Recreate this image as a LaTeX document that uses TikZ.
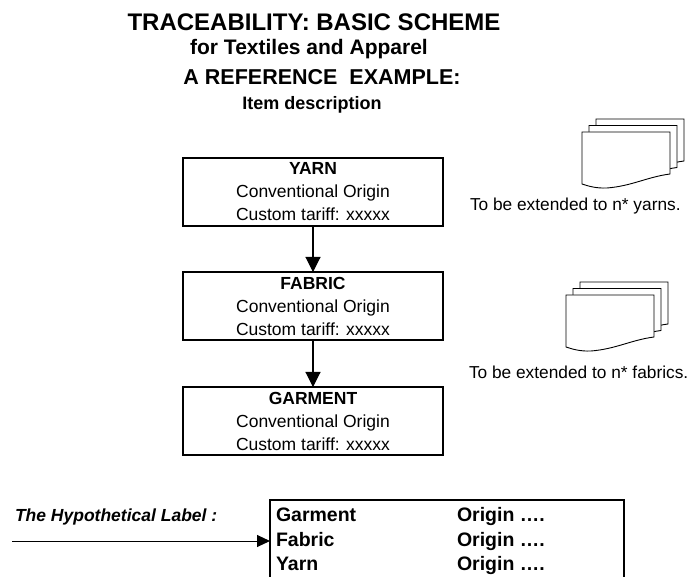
\documentclass[tikz,border=0pt]{standalone}
\usepackage{fontspec}
\setmainfont{Liberation Sans}
\usetikzlibrary{arrows.meta}
\begin{document}
\begin{tikzpicture}[x=1pt,y=-1pt,
  every node/.style={inner sep=0pt, outer sep=0pt},
  box/.style={draw, line width=1.2pt, minimum width=260pt, minimum height=68pt, align=center,
    font=\fontsize{17.5}{23}\selectfont},
  arr/.style={line width=1.1pt, -{Triangle[width=15pt,length=15pt]}},
  larr/.style={line width=1pt, -{Triangle[width=12pt,length=13pt]}},
  ext/.style={anchor=base west, font=\fontsize{17.3}{20}\selectfont},
  lrow/.style={anchor=base west, font=\fontsize{19.5}{22}\selectfont\bfseries},
  docpage/.pic={\filldraw[fill=white, line width=0.9pt]
     (0,0) -- (88,0) -- (88,42) .. controls (65,45) and (50,54) .. (25,56)
     .. controls (14,56.5) and (6,54) .. (0,52) -- cycle;}
]
\useasboundingbox (0,0) rectangle (691,577);
% titles
\node[anchor=base, font=\fontsize{24}{28}\selectfont\bfseries] (title) at (314,31) {TRACEABILITY: BASIC SCHEME};
\node[anchor=base, font=\fontsize{21}{24}\selectfont\bfseries] (sub) at (309,55) {for Textiles and Apparel};
\node[anchor=base, font=\fontsize{21.5}{24}\selectfont\bfseries] (ref) at (322,85) {A REFERENCE\ \ EXAMPLE:};
\node[anchor=base, font=\fontsize{18}{20}\selectfont\bfseries] (item) at (312,110) {Item description};
% boxes
\node[box] (yarn) at (313,192) {\textbf{YARN}\\Conventional Origin\\Custom tariff: xxxxx};
\node[box] (fabric) at (313,306) {\textbf{FABRIC}\\Conventional Origin\\Custom tariff: xxxxx};
\node[box] (garment) at (313,421) {\textbf{GARMENT}\\Conventional Origin\\Custom tariff: xxxxx};
\draw[arr] (yarn) -- (fabric);
\draw[arr] (fabric) -- (garment);
% document stacks
\pic at (596,119) {docpage};
\pic at (589,125.5) {docpage};
\pic at (582,132) {docpage};
\node[ext] (extyarn) at (470,211) {To be extended to n* yarns.};
\pic at (580,282) {docpage};
\pic at (573,288.5) {docpage};
\pic at (566,295) {docpage};
\node[ext] (extfab) at (469,378) {To be extended to n* fabrics.};
% label
\node[anchor=base west, font=\fontsize{17.5}{20}\selectfont\bfseries\itshape] (hyp) at (15,521) {The Hypothetical Label :};
\node[draw, line width=2pt, minimum width=354pt, minimum height=100pt, anchor=north west] (lab) at (270,500) {};
\coordinate (astart) at (12,541);
\draw[larr] (astart) -- (astart -| lab.west);
\node[lrow] (g1) at (276,521) {Garment};
\node[lrow] (g2) at (457,521) {Origin ….};
\node[lrow] (f1) at (276,546) {Fabric};
\node[lrow] (f2) at (457,546) {Origin ….};
\node[lrow] (y1) at (276,570) {Yarn};
\node[lrow] (y2) at (457,570) {Origin ….};
\end{tikzpicture}
\end{document}
